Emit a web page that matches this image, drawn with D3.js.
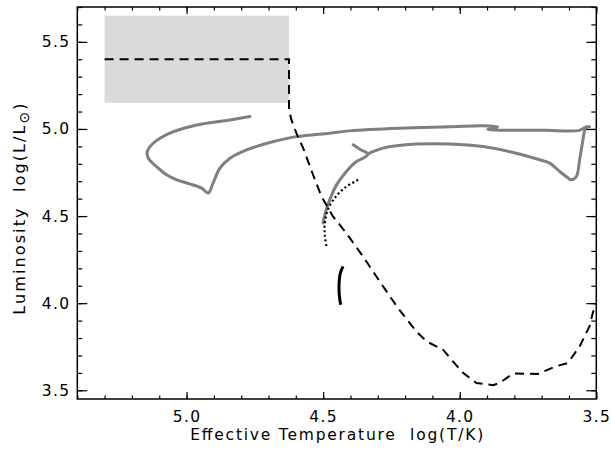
<!DOCTYPE html>
<html>
<head>
<meta charset="utf-8">
<script src="https://cdn.jsdelivr.net/npm/d3@7"></script>
<style>
  body { margin: 0; background: #fff; }
  svg text { font-family: "DejaVu Sans", sans-serif; fill: #000; }
</style>
</head>
<body>
<div id="hrd"></div>
<script>
// 1: DATA  (log Teff, log L)
// hot track: blue loop on the left plus the long redward crossing
const trackHot = [
  [4.768, 5.071], [4.841, 5.052], [4.963, 5.023], [5.061, 4.976], [5.122, 4.918],
  [5.144, 4.870], [5.140, 4.832], [5.110, 4.784], [5.073, 4.737], [5.036, 4.708],
  [4.988, 4.685], [4.945, 4.660], [4.921, 4.632], [4.903, 4.689], [4.878, 4.775],
  [4.841, 4.832], [4.780, 4.880], [4.695, 4.922], [4.598, 4.956], [4.476, 4.976],
  [4.403, 4.989], [4.220, 5.004], [4.037, 5.012], [3.915, 5.018], [3.861, 5.012],
  [3.898, 4.998], [3.854, 4.993], [3.817, 4.993], [3.689, 4.992], [3.562, 4.992],
  [3.540, 5.009], [3.525, 5.012]
];
// cool track: from the hook at 4.34 to the red dip and back up
const trackCool = [
  [4.336, 4.857], [4.281, 4.890], [4.159, 4.913], [4.037, 4.914], [3.915, 4.899],
  [3.793, 4.861], [3.707, 4.823], [3.671, 4.804], [3.634, 4.756], [3.610, 4.727],
  [3.592, 4.708], [3.573, 4.727], [3.561, 4.823], [3.549, 4.937], [3.543, 4.989],
  [3.536, 5.012]
];
// main-sequence branch up to the hook
const trackMS = [
  [4.500, 4.460], [4.494, 4.507], [4.476, 4.593], [4.451, 4.679], [4.415, 4.756],
  [4.378, 4.813], [4.347, 4.838], [4.336, 4.857], [4.366, 4.884], [4.390, 4.909]
];
const trackDotted = [
  [4.372, 4.708], [4.421, 4.662], [4.457, 4.605], [4.483, 4.536], [4.494, 4.461],
  [4.494, 4.393], [4.487, 4.318]
];
const trackSolid = [
  [4.427, 4.211], [4.437, 4.173], [4.442, 4.096], [4.439, 4.020], [4.435, 3.991]
];
const boundary = [
  [5.300, 5.400], [4.625, 5.400], [4.625, 5.109], [4.616, 5.052], [4.598, 4.976],
  [4.573, 4.890], [4.537, 4.737], [4.506, 4.612], [4.464, 4.498], [4.415, 4.402],
  [4.354, 4.268], [4.293, 4.125], [4.226, 3.972], [4.159, 3.838], [4.122, 3.781],
  [4.061, 3.733], [4.025, 3.666], [3.988, 3.600], [3.939, 3.542], [3.878, 3.529],
  [3.854, 3.542], [3.805, 3.596], [3.714, 3.594], [3.647, 3.638], [3.604, 3.657],
  [3.561, 3.752], [3.525, 3.867], [3.513, 3.944], [3.500, 4.001]
];
const boxT = [5.30, 4.625];
const boxL = [5.15, 5.65];
const xMajor = [5.0, 4.5, 4.0, 3.5];
const yMajor = [3.5, 4.0, 4.5, 5.0, 5.5];
const xMinor = d3.range(54, 34, -1).map(v => v / 10);
const yMinor = d3.range(35, 58).map(v => v / 10);

// 2: LAYOUT
const W = 611, H = 457;
const margin = { top: 7, right: 14.7, bottom: 58, left: 77.3 };
const width = W - margin.left - margin.right;
const height = H - margin.top - margin.bottom;

const svg = d3.select("#hrd").append("svg")
  .attr("width", W)
  .attr("height", H);
const g = svg.append("g")
  .attr("transform", `translate(${margin.left},${margin.top})`);

// 3: SCALES
const x = d3.scaleLinear().domain([5.4, 3.5]).range([0, width]);
const y = d3.scaleLinear().domain([3.45, 5.7]).range([height, 0]);

// 4: GREY BOX
g.append("rect")
  .attr("x", x(boxT[0]))
  .attr("y", y(boxL[1]))
  .attr("width", x(boxT[1]) - x(boxT[0]))
  .attr("height", y(boxL[0]) - y(boxL[1]))
  .attr("fill", "#dadada");

// 5: TRACKS
const smooth = d3.line().x(d => x(d[0])).y(d => y(d[1])).curve(d3.curveCatmullRom.alpha(0.5));
const line = d3.line().x(d => x(d[0])).y(d => y(d[1]));

[trackHot, trackCool, trackMS].forEach(t => {
  g.append("path")
    .attr("d", smooth(t))
    .attr("fill", "none")
    .attr("stroke", "#7f7f7f")
    .attr("stroke-width", 3)
    .attr("stroke-linejoin", "round")
    .attr("stroke-linecap", "round");
});

g.append("path")
  .attr("d", smooth(trackDotted))
  .attr("fill", "none")
  .attr("stroke", "#000")
  .attr("stroke-width", 2.2)
  .attr("stroke-dasharray", "2,2.6");

g.append("path")
  .attr("d", smooth(trackSolid))
  .attr("fill", "none")
  .attr("stroke", "#000")
  .attr("stroke-width", 3);

g.append("path")
  .attr("d", line(boundary))
  .attr("fill", "none")
  .attr("stroke", "#000")
  .attr("stroke-width", 2)
  .attr("stroke-dasharray", "9,6");

// 6: AXES (ticks point inward on all four sides)
function axis(gen, scale, vals, size, fmt) {
  return gen(scale).tickValues(vals).tickSize(-size).tickFormat(fmt);
}
const noLab = () => "";
const fmt = d3.format(".1f");

const axes = [
  [axis(d3.axisBottom, x, xMinor, 3.5, noLab), `translate(0,${height})`],
  [axis(d3.axisBottom, x, xMajor, 7, fmt).tickPadding(12), `translate(0,${height})`],
  [axis(d3.axisTop, x, xMinor, 3.5, noLab), null],
  [axis(d3.axisTop, x, xMajor, 7, noLab), null],
  [axis(d3.axisLeft, y, yMinor, 5, noLab), null],
  [axis(d3.axisLeft, y, yMajor, 10, fmt).tickPadding(7), null],
  [axis(d3.axisRight, y, yMinor, 5, noLab), `translate(${width},0)`],
  [axis(d3.axisRight, y, yMajor, 10, noLab), `translate(${width},0)`]
];
axes.forEach(([a, tr]) => {
  const ax = g.append("g").call(a);
  if (tr) ax.attr("transform", tr);
  ax.select(".domain").remove();
  ax.selectAll("line").attr("stroke", "#000").attr("stroke-width", 1.2);
  ax.selectAll("text")
    .style("font-size", "15.5px")
    .style("letter-spacing", "1.3px")
    .attr("font-family", null);
});

g.append("rect")
  .attr("width", width)
  .attr("height", height)
  .attr("fill", "none")
  .attr("stroke", "#000")
  .attr("stroke-width", 1.5);

// 7: LABELS
svg.append("text")
  .attr("x", 336.7)
  .attr("y", 440)
  .attr("text-anchor", "middle")
  .attr("textLength", 293)
  .style("font-size", "15.5px")
  .style("white-space", "pre")
  .text("Effective Temperature  log(T/K)");

const yt = svg.append("text")
  .attr("transform", "translate(25,208) rotate(-90)")
  .attr("text-anchor", "middle")
  .style("font-size", "16px")
  .style("letter-spacing", "2.1px")
  .style("white-space", "pre");
yt.append("tspan").text("Luminosity  log(L/L");
yt.append("tspan").attr("dy", 4).style("font-size", "14px").text("\u2299");
yt.append("tspan").attr("dy", -4).text(")");
</script>
</body>
</html>
